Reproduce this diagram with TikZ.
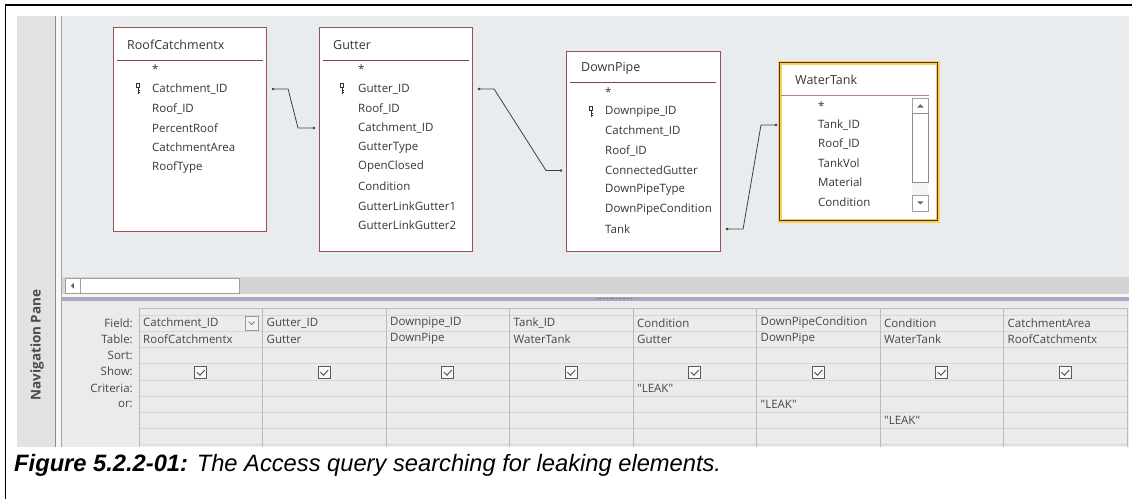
\documentclass[tikz,border=0pt]{standalone}
\usepackage{fontspec}
\setmainfont{Liberation Sans}
\newfontfamily\uifont{Open Sans}
\usetikzlibrary{calc}
\definecolor{dsbg}{HTML}{E9ECEF}
\definecolor{navbg}{HTML}{E2E2E2}
\definecolor{gridbg}{HTML}{EBEBEB}
\definecolor{gridline}{HTML}{D6D6D6}
\definecolor{colline}{HTML}{BBBBBB}
\definecolor{tblborder}{HTML}{9A4E55}
\definecolor{tbltext}{HTML}{363636}
\definecolor{tankyellow}{HTML}{F8CF5C}
\definecolor{splitter}{HTML}{A9A7C4}
\definecolor{track}{HTML}{D4D4D4}
\definecolor{sbborder}{HTML}{9E9E9E}
\tikzset{
  fld/.style={anchor=west, inner sep=0pt, text=tbltext, font=\uifont\fontsize{11.5}{13}\selectfont},
  ttl/.style={anchor=west, inner sep=0pt, text=tbltext, font=\uifont\fontsize{12.5}{14}\selectfont},
  tbl/.style={anchor=north west, draw=tblborder, fill=white, line width=1.1pt, inner sep=0pt},
  sep/.style={draw=tblborder!85!black, line width=1pt},
  conn/.style={draw=black!75, line width=0.8pt},
  cdot/.style={fill=black!75},
  gtxt/.style={anchor=west, inner sep=0pt, text=black!72, font=\uifont\fontsize{11.5}{13}\selectfont},
  glbl/.style={anchor=east, inner sep=0pt, text=black!72, font=\uifont\fontsize{11.5}{13}\selectfont},
  chk/.style={draw=black!65, fill=white!96!gray, minimum size=12pt, inner sep=0pt, line width=0.8pt},
  sbbox/.style={draw=sbborder, fill=white, line width=0.8pt},
  pkey/.pic={
    \draw[black!80, line width=0.9pt] (-1.6,-5.5) rectangle (1.6,-1.5);
    \draw[black!80, line width=1pt] (0,-1.5) -- (0,5);
    \draw[black!80, line width=0.8pt] (0,1.5) -- (1.8,1.5) (0,3.8) -- (1.8,3.8);
  }
}
\begin{document}
\begin{tikzpicture}[x=1pt,y=-1pt]
\useasboundingbox (0,0) rectangle (1132,499);
\fill[white] (0,0) rectangle (1132,499);
\draw[black, line width=1.3pt] (1132,5) -- (5.5,5) -- (5.5,499);
% navigation pane
\fill[navbg] (17,16) rectangle (55,447);
\fill[white!94!gray] (55,16) rectangle (61,447);
\draw[black!45] (55.5,16) -- (55.5,447);
\draw[black!35] (61.5,16) -- (61.5,447);
\node[rotate=90, inner sep=0pt, text=black!70, font=\uifont\bfseries\fontsize{13.5}{15}\selectfont] (nav) at (37,345) {Navigation Pane};
% design surface
\fill[dsbg] (62,16) rectangle (1129,277);
\fill[track] (62,277) rectangle (1129,294);
\node[sbbox, anchor=north west, minimum width=15pt, minimum height=15.5pt] (sbl) at (65,277.5) {};
\fill[black!60] ($(sbl.center)+(-2,0)$) -- ++(3,-3) -- ++(0,6) -- cycle;
\node[sbbox, anchor=north west, minimum width=159pt, minimum height=15.5pt] (sbt) at (80,277.5) {};
\fill[white!93!gray] (62,294) rectangle (1129,297);
\fill[splitter] (62,297) rectangle (1129,301);
\draw[black!55, line width=1pt, dash pattern=on 1.2pt off 1.2pt] (597,298.8) -- (633,298.8);
% query grid
\fill[gridbg] (62,301) rectangle (1129,447);
\foreach \yy in {315,331,347,363,380,396,412,428,444}{
  \draw[gridline, line width=0.8pt] (139,\yy) -- (1127,\yy);
}
\draw[colline, line width=0.9pt] (139,308) -- (1127,308);
\foreach \i in {0,...,8}{
  \draw[colline, line width=0.9pt] (139+\i*123.5,308) -- (139+\i*123.5,447);
}
\node[glbl] (lf) at (133,323) {Field:};
\node[glbl] (lt) at (133,339) {Table:};
\node[glbl] (ls) at (133,355) {Sort:};
\node[glbl] (lsh) at (133,371.5) {Show:};
\node[glbl] (lc) at (133,388) {Criteria:};
\node[glbl] (lo) at (133,404) {or:};
\foreach [count=\i] \f/\t in {Catchment\_ID/RoofCatchmentx, Gutter\_ID/Gutter, Downpipe\_ID/DownPipe, Tank\_ID/WaterTank, Condition/Gutter, DownPipeCondition/DownPipe, Condition/WaterTank, CatchmentArea/RoofCatchmentx}{
  \node[gtxt] (f\i) at (139+\i*123.5-123.5+4,323) {\f};
  \node[gtxt] (t\i) at (139+\i*123.5-123.5+4,339) {\t};
  \node[chk] (k\i) at (139+\i*123.5-61.75,372.5) {};
  \draw[black!70, line width=0.9pt] (k\i.center) ++(-3.8,-0.3) -- ++(3,3) -- ++(4.8,-5.2);
}
\node[draw=black!40, fill=white!90!gray, minimum width=13pt, minimum height=14pt, inner sep=0pt] (dd) at (251.5,323) {};
\draw[black!60, line width=0.7pt] ($(dd.center)+(-3,-1.5)$) -- ($(dd.center)+(0,1.5)$) -- ($(dd.center)+(3,-1.5)$);
\node[gtxt] (q1) at (637,388) {"LEAK"};
\node[gtxt] (q2) at (760.5,404) {"LEAK"};
\node[gtxt] (q3) at (884,420) {"LEAK"};
% table RoofCatchmentx
\node[tbl, minimum width=153pt, minimum height=204pt] (rc) at (113,27) {};
\node[ttl] (rct) at (127,45) {RoofCatchmentx};
\draw[sep] (117,60) -- (263,60);
\foreach [count=\j] \s in {*, Catchment\_ID, Roof\_ID, PercentRoof, CatchmentArea, RoofType}{
  \node[fld] (rc\j) at (152,50+19.5*\j) {\s};
}
\pic at (138,89) {pkey};
% table Gutter
\node[tbl, minimum width=153pt, minimum height=224pt] (gu) at (319,27) {};
\node[ttl] (gut) at (333,45) {Gutter};
\draw[sep] (323,60) -- (469,60);
\foreach [count=\j] \s in {*, Gutter\_ID, Roof\_ID, Catchment\_ID, GutterType, OpenClosed, Condition, GutterLinkGutter1, GutterLinkGutter2}{
  \node[fld] (gu\j) at (358,50+19.5*\j) {\s};
}
\pic at (342,89) {pkey};
% table DownPipe
\node[tbl, minimum width=154pt, minimum height=200pt] (dp) at (566,51) {};
\node[ttl] (dpt) at (581,68) {DownPipe};
\draw[sep] (570,82) -- (716,82);
\foreach [count=\j] \s in {*, Downpipe\_ID, Catchment\_ID, Roof\_ID, ConnectedGutter, DownPipeType, DownPipeCondition, Tank}{
  \node[fld] (dp\j) at (605,73+19.5*\j) {\s};
}
\pic at (591,112) {pkey};
% table WaterTank
\node[tbl, draw=tankyellow, line width=4pt, minimum width=158pt, minimum height=158pt] (wt) at (777.5,60.5) {};
\draw[draw=black!60!brown, line width=1pt] ($(wt.north west)+(2.2,2.2)$) rectangle ($(wt.south east)+(-2.2,-2.2)$);
\node[ttl] (wtt) at (795,80) {WaterTank};
\draw[sep, draw=tblborder!70] (781,95) -- (929,95);
\foreach [count=\j] \s in {*, Tank\_ID, Roof\_ID, TankVol, Material, Condition}{
  \node[fld] (wt\j) at (818,86.5+19.2*\j) {\s};
}
\fill[white!92!gray] (912,113) rectangle (928,195);
\node[sbbox, anchor=north west, minimum width=16pt, minimum height=15pt] (wtu) at (912,98) {};
\fill[black!60] ($(wtu.center)+(-3.2,1.6)$) -- ++(6.4,0) -- ++(-3.2,-3.2) -- cycle;
\node[sbbox, draw=black!45, anchor=north west, minimum width=16pt, minimum height=69pt] (wtb) at (912,113) {};
\node[sbbox, anchor=north west, minimum width=16pt, minimum height=16pt] (wtd) at (912,194.5) {};
\fill[black!60] ($(wtd.center)+(-3.2,-1.6)$) -- ++(6.4,0) -- ++(-3.2,3.2) -- cycle;
% connectors
\coordinate (c1a) at ($(rc.east |- rc2)+(6,0)$);
\coordinate (c1b) at ($(gu.west |- gu4)+(-5,0)$);
\coordinate (c2a) at ($(gu.east |- gu2)+(6,0)$);
\coordinate (c2b) at ($(dp.west |- dp5)+(-5,0)$);
\coordinate (c3a) at ($(dp.east |- dp8)+(6,0)$);
\coordinate (c3b) at ($(wt.west |- wt2)+(-1.5,0)$);
\draw[conn] (c1a) -- ++(15,0) -- ($(c1b)+(-16,0)$) -- (c1b);
\draw[conn] (c2a) -- ++(15,0) -- ($(c2b)+(-15,0)$) -- (c2b);
\draw[conn] (c3a) -- ++(16,0) -- ($(c3b)+(-15,0)$) -- (c3b);
\foreach \c in {c1a,c1b,c2a,c2b,c3a,c3b}{ \fill[cdot] (\c) circle (1.4pt); }
% caption
\node[anchor=base west, inner sep=0pt, font=\fontsize{23.7}{28}\selectfont\itshape] (cap) at (14,471) {\textbf{Figure 5.2.2-01:} The Access query searching for leaking elements.};
\end{tikzpicture}
\end{document}
